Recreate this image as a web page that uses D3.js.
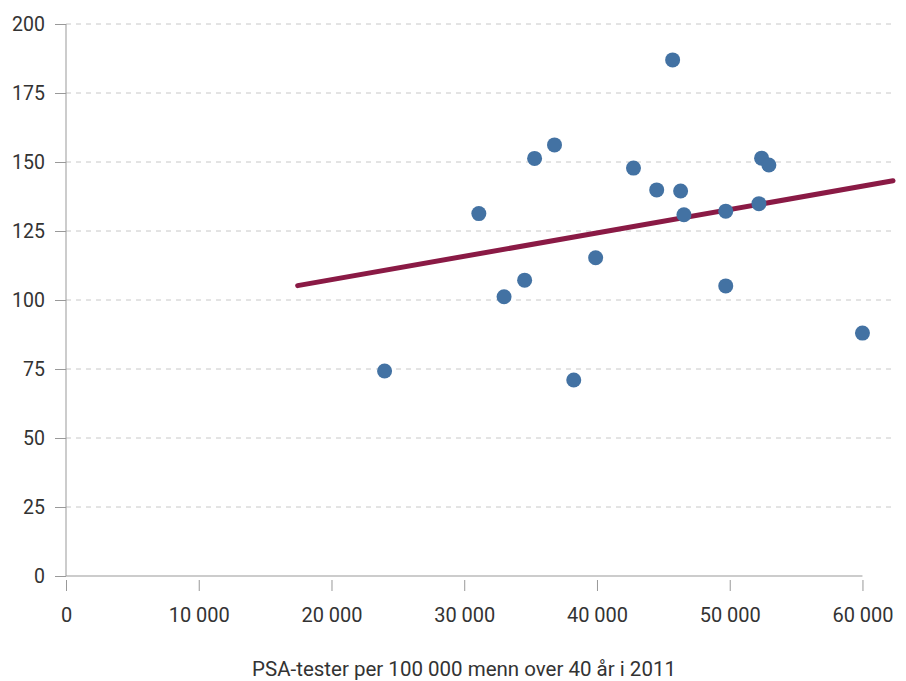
<!DOCTYPE html>
<html>
<head>
<meta charset="utf-8">
<script src="https://cdn.jsdelivr.net/npm/d3@7"></script>
<style>
  body { margin: 0; background: #fff; }
  text { font-family: Roboto, "DejaVu Sans", sans-serif; fill: #333; }
</style>
</head>
<body>
<svg id="mainsvg" width="906" height="681"></svg>
<script>
// data
const psaTests = [24000, 31100, 33000, 34550, 35300, 36800, 38250, 39900, 42750, 44500, 45700, 46300, 46550, 49700, 49700, 52200, 52400, 52950, 60000];
const rates = [74.3, 131.3, 101.2, 107.2, 151.3, 156.2, 71.0, 115.3, 147.8, 139.9, 187.0, 139.5, 130.9, 132.2, 105.1, 134.9, 151.4, 148.9, 88.0];
const trendX = [17450, 62300];
const trendY = [105.2, 143.2];
const xTicks = [0, 10000, 20000, 30000, 40000, 50000, 60000];
const yTicks = [0, 25, 50, 75, 100, 125, 150, 175, 200];
const xTitle = 'PSA-tester per 100 000 menn over 40 år i 2011';

const svg = d3.select('#mainsvg');
const margin = {top: 24, right: 13, bottom: 105, left: 66};
const width = +svg.attr('width');
const height = +svg.attr('height');
const innerWidth = width - margin.left - margin.right;
const innerHeight = height - margin.top - margin.bottom;

const xScale = d3.scaleLinear().domain([0, 62300]).range([0, innerWidth]);
const yScale = d3.scaleLinear().domain([0, 200]).range([innerHeight, 0]);

const g = svg.append('g')
    .attr('transform', `translate(${margin.left}, ${margin.top})`);

const fmt = d => d3.format(',')(d).replace(/,/g, ' ');

// grid
g.append('g').selectAll('line')
    .data(yTicks.filter(d => d > 0))
    .join('line')
    .attr('x1', 0).attr('x2', innerWidth)
    .attr('y1', d => yScale(d)).attr('y2', d => yScale(d))
    .attr('stroke', '#c8c8c8')
    .attr('stroke-dasharray', '5,5');

// y axis
const yAxisG = g.append('g')
    .call(d3.axisLeft(yScale).tickValues(yTicks).tickSize(11).tickPadding(10));
yAxisG.select('.domain').attr('stroke', '#999').attr('d', `M0,${innerHeight}V0`);
yAxisG.selectAll('.tick line').attr('stroke', '#999');
yAxisG.selectAll('.tick text').attr('font-size', '19.5px').attr('fill', '#333')
    .attr('font-family', 'Roboto, sans-serif');

// x axis
const xAxisG = g.append('g').attr('transform', `translate(0, ${innerHeight})`)
    .call(d3.axisBottom(xScale).tickValues(xTicks).tickFormat(fmt).tickSize(0).tickPadding(32));
xAxisG.select('.domain').attr('stroke', '#999').attr('d', `M0,0H${xScale(60000)}`);
xAxisG.selectAll('.tick text').attr('font-size', '20px').attr('fill', '#333')
    .attr('font-family', 'Roboto, sans-serif');
xAxisG.selectAll('.tick').append('line')
    .attr('y1', 4).attr('y2', 15)
    .attr('stroke', '#999');

// trend line
const trend = trendX.map((x, i) => [x, trendY[i]]);
g.append('path')
    .datum(trend)
    .attr('d', d3.line().x(d => xScale(d[0])).y(d => yScale(d[1])))
    .attr('fill', 'none')
    .attr('stroke', '#8a1a45')
    .attr('stroke-width', 5)
    .attr('stroke-linecap', 'round');

// points
g.append('g').selectAll('circle')
    .data(psaTests.map((x, i) => ({x, y: rates[i]})))
    .join('circle')
    .attr('cx', d => xScale(d.x))
    .attr('cy', d => yScale(d.y))
    .attr('r', 7.5)
    .attr('fill', '#4372a3');

// x title
svg.append('text')
    .attr('x', 464).attr('y', 676)
    .attr('text-anchor', 'middle')
    .attr('font-size', '20.5px')
    .text(xTitle);
</script>
</body>
</html>
